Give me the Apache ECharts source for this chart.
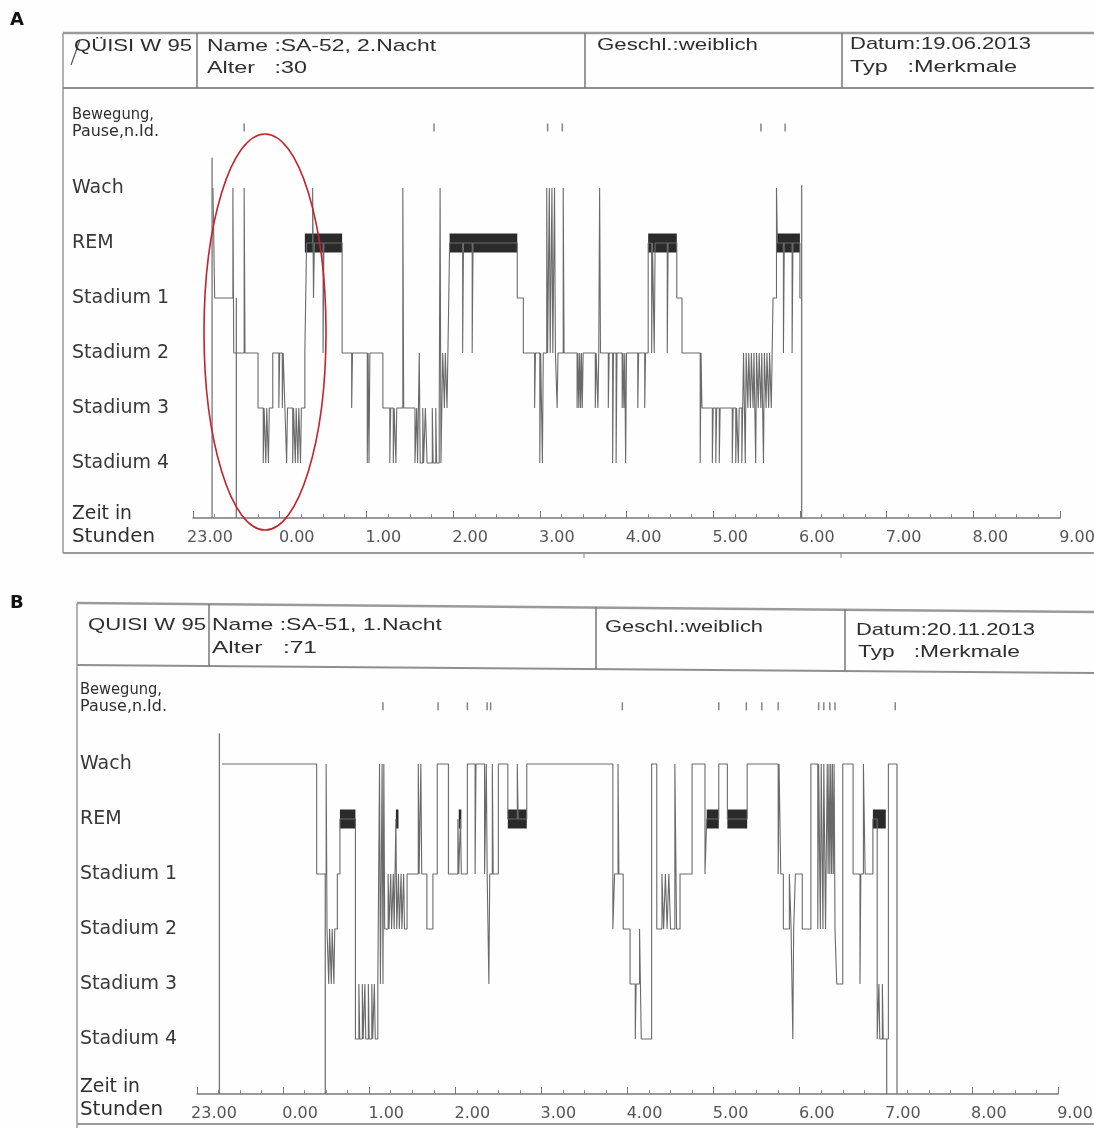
<!DOCTYPE html>
<html>
<head>
<meta charset="utf-8">
<title>Hypnogramme A / B</title>
<script src="https://cdn.jsdelivr.net/npm/echarts@6/dist/echarts.min.js"></script>
<style>
  html, body { margin: 0; padding: 0; background: #fefefe; }
  #chart { width: 1094px; height: 1128px; }
</style>
</head>
<body>
<div id="chart"></div>
<script>
// Stadien: 5 = Wach, 4 = REM, 3 = Stadium 1, 2 = Stadium 2, 1 = Stadium 3, 0 = Stadium 4
const stageNames = ['Stadium 4', 'Stadium 3', 'Stadium 2', 'Stadium 1', 'REM', 'Wach']
// x = Stunden nach 23.00
const tickLabels = ['23.00', '0.00', '1.00', '2.00', '3.00', '4.00', '5.00', '6.00', '7.00', '8.00', '9.00']

// --- A: SA-52, 2.Nacht ---
const hypnoA = [
  [0.23, 5], [0.25, 3], [0.46, 5], [0.47, 2], [0.59, 5], [0.60, 2], [0.75, 1],
  [0.81, 0], [0.82, 1], [0.84, 0], [0.85, 1], [0.87, 0], [0.88, 1], [0.92, 2],
  [0.99, 1], [1.00, 2], [1.03, 1], [1.04, 2], [1.06, 1], [1.08, 0], [1.09, 1],
  [1.15, 0], [1.16, 1], [1.18, 0], [1.19, 1], [1.21, 0], [1.22, 1], [1.24, 0], [1.25, 1],
  [1.29, 2], [1.31, 4], [1.38, 5], [1.39, 3], [1.40, 4], [1.50, 2], [1.51, 4],
  [1.72, 2], [1.83, 1], [1.84, 2], [2.01, 0], [2.02, 2], [2.03, 0], [2.04, 2],
  [2.19, 1], [2.27, 0], [2.28, 1], [2.31, 0], [2.32, 1], [2.34, 0], [2.35, 1],
  [2.42, 5], [2.43, 1], [2.56, 0], [2.58, 1], [2.59, 0], [2.61, 2], [2.62, 0],
  [2.65, 1], [2.66, 0], [2.68, 1], [2.70, 0], [2.76, 1], [2.77, 0], [2.80, 1],
  [2.81, 0], [2.84, 1], [2.85, 5], [2.86, 0], [2.88, 2], [2.90, 1], [2.91, 2],
  [2.93, 1], [2.94, 2], [2.96, 4], [3.11, 2], [3.12, 4], [3.22, 2], [3.23, 4],
  [3.74, 3], [3.81, 2], [3.94, 1], [3.95, 2], [4.00, 0], [4.01, 2], [4.03, 0], [4.04, 2],
  [4.08, 5], [4.09, 2], [4.11, 5], [4.12, 2], [4.14, 5], [4.15, 2], [4.17, 5], [4.18, 2],
  [4.20, 1], [4.21, 2], [4.27, 5], [4.28, 2],
  [4.43, 1], [4.44, 2], [4.45, 1], [4.46, 2], [4.47, 1], [4.48, 2], [4.49, 1], [4.50, 2],
  [4.64, 1], [4.65, 2], [4.67, 1], [4.68, 2], [4.69, 5], [4.70, 2], [4.79, 1], [4.80, 2],
  [4.84, 0], [4.85, 2], [4.88, 0], [4.89, 2], [4.95, 1], [4.96, 2], [4.97, 1], [4.98, 2],
  [4.99, 0], [5.00, 2], [5.13, 1], [5.14, 2], [5.21, 1], [5.22, 2], [5.25, 4],
  [5.29, 2], [5.30, 4], [5.32, 2], [5.33, 4], [5.47, 2], [5.48, 4],
  [5.58, 3], [5.64, 2], [5.85, 0], [5.86, 2], [5.87, 1],
  [5.99, 0], [6.00, 1], [6.03, 0], [6.04, 1], [6.07, 0], [6.08, 1],
  [6.22, 0], [6.23, 1], [6.26, 0], [6.27, 1], [6.29, 0], [6.30, 1], [6.33, 0], [6.34, 1],
  [6.35, 2], [6.36, 1], [6.37, 0], [6.38, 2], [6.40, 1], [6.41, 2], [6.43, 1], [6.44, 2],
  [6.46, 1], [6.47, 2], [6.49, 0], [6.50, 2], [6.52, 1], [6.53, 2], [6.55, 1], [6.56, 2],
  [6.58, 0], [6.59, 2], [6.61, 1], [6.62, 2], [6.64, 1], [6.65, 2], [6.67, 1], [6.68, 2],
  [6.69, 3], [6.73, 5], [6.74, 4], [6.81, 2], [6.82, 4], [6.91, 2], [6.92, 4],
  [7.00, 3], [7.01, 3]
]
const remA = [[1.29, 1.72], [2.96, 3.74], [5.25, 5.58], [6.73, 7.00]]
const moveA = [0.59, 2.78, 4.09, 4.26, 6.55, 6.83]
// senkrechte Markierungen [Stunde, oberes Ende]
const markA = [[0.22, 5.55], [0.50, 3], [7.02, 5.05]]

// --- B: SA-51, 1.Nacht ---
const hypnoB = [
  [0.29, 5], [1.39, 3], [1.50, 5], [1.51, 2],
  [1.53, 1], [1.54, 2], [1.56, 1], [1.57, 2], [1.59, 1], [1.60, 2],
  [1.63, 3], [1.66, 4], [1.84, 0],
  [1.88, 1], [1.89, 0], [1.92, 1], [1.93, 0], [1.95, 1], [1.96, 0], [1.99, 1], [2.00, 0],
  [2.03, 1], [2.04, 0], [2.06, 1], [2.07, 0], [2.10, 1],
  [2.12, 5], [2.13, 1], [2.15, 5], [2.16, 1], [2.17, 5], [2.18, 2],
  [2.22, 3], [2.23, 2], [2.25, 3], [2.26, 2], [2.28, 3], [2.29, 2], [2.31, 4], [2.32, 2],
  [2.34, 3], [2.35, 2], [2.37, 3], [2.38, 2], [2.40, 3], [2.41, 2], [2.44, 3],
  [2.57, 5], [2.58, 3], [2.60, 5], [2.61, 3], [2.67, 2], [2.74, 3], [2.79, 5],
  [2.92, 3], [3.03, 4], [3.04, 3], [3.06, 4], [3.07, 3], [3.14, 5], [3.23, 3], [3.24, 5],
  [3.34, 3], [3.36, 5], [3.37, 3], [3.39, 1], [3.40, 3], [3.43, 5], [3.44, 3], [3.50, 5],
  [3.61, 4], [3.72, 5], [3.73, 4], [3.83, 5],
  [4.83, 2], [4.85, 3], [4.89, 5], [4.90, 3], [4.95, 2],
  [5.03, 1], [5.09, 0], [5.10, 1], [5.14, 2], [5.15, 1], [5.16, 0],
  [5.28, 5], [5.34, 2], [5.40, 3], [5.42, 2], [5.44, 3], [5.46, 2], [5.48, 3], [5.50, 2],
  [5.55, 5], [5.57, 2], [5.61, 3], [5.75, 5], [5.90, 3], [5.92, 4],
  [6.06, 5], [6.16, 4], [6.39, 5], [6.75, 3], [6.76, 5], [6.78, 3],
  [6.81, 2], [6.88, 3], [6.90, 2], [6.92, 0], [6.93, 2], [6.95, 3], [7.03, 2], [7.13, 5],
  [7.21, 2], [7.22, 5], [7.24, 2], [7.25, 5], [7.27, 2], [7.28, 5], [7.30, 2],
  [7.32, 5], [7.33, 3], [7.34, 5], [7.35, 3], [7.36, 5], [7.37, 3], [7.38, 5], [7.39, 3],
  [7.40, 5], [7.41, 2], [7.43, 1], [7.50, 5],
  [7.62, 3], [7.70, 1], [7.71, 3], [7.74, 5], [7.76, 3], [7.85, 4],
  [7.90, 0], [7.92, 1], [7.93, 0], [7.96, 1], [7.97, 0], [8.03, 5], [8.13, 5]
]
const remB = [[1.66, 1.84], [2.31, 2.34], [3.04, 3.07], [3.61, 3.83], [5.92, 6.06], [6.16, 6.39], [7.85, 8.00]]
const moveB = [2.16, 2.80, 3.14, 3.37, 3.41, 4.94, 6.06, 6.38, 6.56, 6.75, 7.22, 7.28, 7.35, 7.41, 8.11]
const markB = [[0.26, 5.56], [1.49, 3], [8.01, 0], [8.13, 5]]

const chart = echarts.init(document.getElementById('chart'))

// Schrift breitziehen wie im Scan
const measureCtx = document.createElement('canvas').getContext('2d')
function txt (x, y, str, font, width, fill) {
  let sx = 1
  if (width) {
    measureCtx.font = font
    sx = width / measureCtx.measureText(str).width
  }
  return {
    type: 'text', x: x, y: y, scaleX: sx, silent: true, z: 20,
    style: { text: str, font: font, fill: fill || '#2e2e2e', textVerticalAlign: 'middle', verticalAlign: 'middle' }
  }
}
function ln (x1, y1, x2, y2, w, c) {
  return { type: 'line', silent: true, z: 20, shape: { x1: x1, y1: y1, x2: x2, y2: y2 }, style: { stroke: c || '#888', lineWidth: w || 1.5 } }
}

const HEAD = '17px "Liberation Sans"'
const SMALL = '15px "DejaVu Sans"'
const MID = '19px "DejaVu Sans"'

function xAxisCfg (idx) {
  return {
    type: 'value', gridIndex: idx, min: 0, max: 10, interval: 1,
    axisLine: { show: true, onZero: false, lineStyle: { color: '#7a7a7a', width: 1.5 } },
    axisTick: { show: true, inside: true, length: 7, lineStyle: { color: '#777' } },
    minorTick: { show: true, splitNumber: 4, length: 4, lineStyle: { color: '#888' } },
    splitLine: { show: false },
    axisLabel: {
      formatter: function (v) { return tickLabels[Math.round(v)] },
      fontFamily: 'DejaVu Sans', fontSize: 16, color: '#555', margin: 12, padding: [0, 0, 0, 34]
    }
  }
}
function yAxisCfg (idx, margin) {
  return {
    type: 'value', gridIndex: idx, min: -1, max: 7, interval: 1,
    axisLine: { show: false }, axisTick: { show: false }, splitLine: { show: false },
    axisLabel: {
      formatter: function (v) { return stageNames[v] || '' },
      align: 'left', margin: margin, fontFamily: 'DejaVu Sans', fontSize: 19, color: '#383838'
    }
  }
}

function hypnoSeries (idx, data) {
  return {
    type: 'line', xAxisIndex: idx, yAxisIndex: idx, step: 'end', data: data,
    symbol: 'none', lineStyle: { color: '#6a6a6a', width: 1.1 }, z: 3, animation: false
  }
}
function remSeries (idx, data) {
  return {
    type: 'custom', xAxisIndex: idx, yAxisIndex: idx, data: data, z: 2, animation: false,
    encode: { x: [0, 1], y: -1 },
    renderItem: function (params, api) {
      const a = api.coord([api.value(0), 4])
      const b = api.coord([api.value(1), 4])
      return { type: 'rect', shape: { x: a[0], y: a[1] - 9.5, width: Math.max(b[0] - a[0], 2), height: 19 }, style: { fill: '#2a2a2a' } }
    }
  }
}
function markSeries (idx, data) {
  return {
    type: 'custom', xAxisIndex: idx, yAxisIndex: idx, data: data, z: 3, animation: false,
    encode: { x: 0, y: 1 },
    renderItem: function (params, api) {
      const a = api.coord([api.value(0), api.value(1)])
      const b = api.coord([api.value(0), -1])
      return { type: 'line', shape: { x1: a[0], y1: a[1], x2: b[0], y2: b[1] }, style: { stroke: '#777', lineWidth: 1.3 } }
    }
  }
}
function moveSeries (idx, data, level) {
  return {
    type: 'scatter', xAxisIndex: idx, yAxisIndex: idx, symbol: 'rect', symbolSize: [1.5, 8],
    data: data.map(function (h) { return [h, level] }), itemStyle: { color: '#666' }, animation: false
  }
}

const graphics = [
  // Panel A
  txt(10, 20, 'A', 'bold 18px "DejaVu Sans"', null, '#111'),
  ln(63, 33, 1094, 33, 2.5, '#9a9a9a'), ln(63, 88, 1094, 88, 2, '#8f8f8f'),
  ln(197, 33, 197, 88, 1.5, '#777'), ln(585, 33, 585, 88, 1.5, '#777'), ln(842, 33, 842, 88, 1.5, '#777'),
  ln(63, 33, 63, 553, 1.5, '#999'), ln(63, 553, 1094, 553, 2, '#9a9a9a'),
  ln(584, 553, 584, 558, 1, '#888'), ln(841, 553, 841, 558, 1, '#888'),
  ln(80, 40, 71, 65, 1.2, '#555'),
  txt(74, 46, 'QÜISI W 95', HEAD, 118),
  txt(207, 46, 'Name :SA-52, 2.Nacht', HEAD, 229),
  txt(207, 68, 'Alter   :30', HEAD, 100),
  txt(597, 45, 'Geschl.:weiblich', HEAD, 161),
  txt(850, 44, 'Datum:19.06.2013', HEAD, 181),
  txt(850, 67, 'Typ   :Merkmale', HEAD, 167),
  txt(72, 115, 'Bewegung,', SMALL, 82),
  txt(72, 132, 'Pause,n.Id.', SMALL, 87),
  txt(72, 514, 'Zeit in', MID, 60),
  txt(72, 537, 'Stunden', MID, 83),
  {
    type: 'ellipse', silent: true, z: 30,
    shape: { cx: 265, cy: 332, rx: 61, ry: 198 },
    style: { fill: 'none', stroke: '#c4222c', lineWidth: 1.6 }
  },
  // Panel B
  txt(10, 603, 'B', 'bold 18px "DejaVu Sans"', null, '#111'),
  ln(77, 603, 1094, 612, 2.5, '#9a9a9a'), ln(77, 665, 1094, 673, 2, '#8f8f8f'),
  ln(209, 604, 209, 666, 1.5, '#777'), ln(596, 607, 596, 669, 1.5, '#777'), ln(845, 609, 845, 671, 1.5, '#777'),
  ln(77, 603, 77, 1128, 1.5, '#999'), ln(77, 1124, 1094, 1124, 2, '#9a9a9a'),
  txt(88, 625, 'QUISI W 95', HEAD, 118),
  txt(212, 625, 'Name :SA-51, 1.Nacht', HEAD, 230),
  txt(212, 648, 'Alter   :71', HEAD, 105),
  txt(605, 627, 'Geschl.:weiblich', HEAD, 158),
  txt(856, 630, 'Datum:20.11.2013', HEAD, 179),
  txt(858, 652, 'Typ   :Merkmale', HEAD, 162),
  txt(80, 690, 'Bewegung,', SMALL, 82),
  txt(80, 707, 'Pause,n.Id.', SMALL, 87),
  txt(80, 1087, 'Zeit in', MID, 60),
  txt(80, 1110, 'Stunden', MID, 83)
]

chart.setOption({
  animation: false,
  backgroundColor: '#fefefe',
  grid: [
    { left: 193, top: 78, width: 867, height: 440, containLabel: false, outerBoundsMode: 'none' },
    { left: 197, top: 654, width: 861, height: 440, containLabel: false, outerBoundsMode: 'none' }
  ],
  xAxis: [xAxisCfg(0), xAxisCfg(1)],
  yAxis: [yAxisCfg(0, 121), yAxisCfg(1, 117)],
  series: [
    remSeries(0, remA), hypnoSeries(0, hypnoA), markSeries(0, markA), moveSeries(0, moveA, 6.1),
    remSeries(1, remB), hypnoSeries(1, hypnoB), markSeries(1, markB), moveSeries(1, moveB, 6.05)
  ],
  graphic: graphics
})
</script>
</body>
</html>
